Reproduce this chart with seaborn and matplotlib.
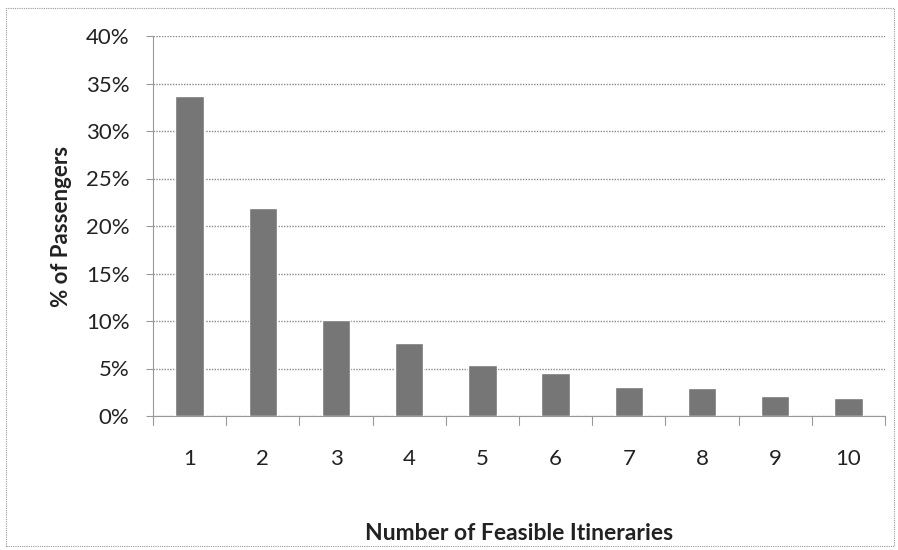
import matplotlib
matplotlib.use("Agg")
import matplotlib.pyplot as plt
import seaborn as sns
import pandas as pd
from matplotlib.patches import Rectangle

categories = ["1", "2", "3", "4", "5", "6", "7", "8", "9", "10"]
values = [33.7, 21.9, 10.1, 7.7, 5.4, 4.5, 3.1, 3.0, 2.1, 1.9]
yticks = [0, 5, 10, 15, 20, 25, 30, 35, 40]
ytick_labels = ["0%", "5%", "10%", "15%", "20%", "25%", "30%", "35%", "40%"]

sns.set_theme(style="white")
plt.rcParams['font.family'] = ['Lato', 'DejaVu Sans']

df = pd.DataFrame({"Itineraries": categories, "Pct": values})

fig = plt.figure(figsize=(8.98, 5.5), dpi=100)
ax = fig.add_axes([153/898, 1 - 416/550, (885-153)/898, (416-36)/550])

sns.barplot(data=df, x="Itineraries", y="Pct", color="#767676", saturation=1,
            width=0.39, ax=ax, zorder=3)

ax.set_ylim(0, 40)
ax.set_xlim(-0.5, len(categories) - 0.5)
ax.set_yticks(yticks)
ax.set_yticklabels(ytick_labels, fontsize=16, color="#222222")
ax.tick_params(axis="x", labelsize=16, labelcolor="#222222", pad=24, length=0)
for i in range(len(categories) + 1):
    ax.plot([i - 0.5, i - 0.5], [0, -0.9], color="#999999", lw=0.8, clip_on=False)
ax.tick_params(axis="y", length=5, color="#999999", direction="out", width=0.8, pad=12)
ax.yaxis.set_ticks_position("left")

ax.grid(axis="y", color="#8a8a8a", lw=1.0, ls=(0, (1, 1)), zorder=0)
for s in ["top", "right"]:
    ax.spines[s].set_visible(False)
ax.spines["left"].set_color("#999999")
ax.spines["left"].set_linewidth(0.8)
ax.spines["bottom"].set_color("#999999")
ax.spines["bottom"].set_linewidth(0.8)

ax.set_xlabel("Number of Feasible Itineraries", fontsize=16.5, fontweight="bold",
              color="#222222", labelpad=39)
ax.set_ylabel("% of Passengers", fontsize=16, fontweight="bold", color="#222222",
              labelpad=10)

fig.patches.append(Rectangle((6/898, 1 - 546/550), 888/898, 538/550,
                             transform=fig.transFigure, fill=False,
                             edgecolor="#999999", lw=0.8, ls=(0, (1, 1))))

fig.savefig("out.png", dpi=100)
